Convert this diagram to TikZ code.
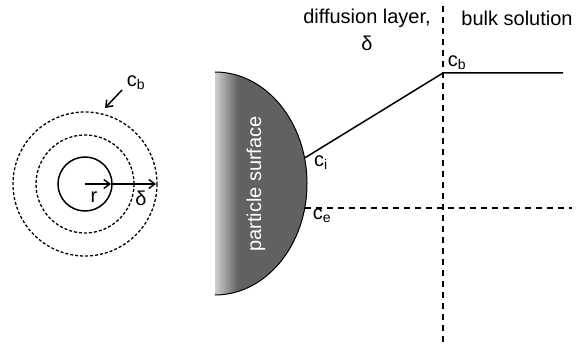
\documentclass[tikz,border=0pt]{standalone}
\usepackage{fontspec}
\setmainfont{Liberation Sans}
\usepackage{tikz}
\usetikzlibrary{arrows.meta}

\tikzset{
  lbl/.style={inner sep=1pt,font=\fontsize{20}{23}\selectfont},
  thinline/.style={line width=1.5pt},
  tip/.style={-{Straight Barb[length=6pt,width=9pt,line width=1.5pt]}},
  bigdash/.style={line width=1.9pt,dash pattern=on 6pt off 5pt},
  ringdash/.style={line width=1.3pt,dash pattern=on 3pt off 2pt},
}

\begin{document}
\begin{tikzpicture}[x=1pt,y=-1pt]
\useasboundingbox (0,0) rectangle (577,347);
% left: particle with rings
\coordinate (o) at (85,184);
\coordinate (r1) at (111,184);
\coordinate (r2) at (156,184);
\draw[thinline] (o) circle (27);
\draw[ringdash] (o) circle (49);
\draw[ringdash] (o) circle (72);
\draw[thinline,tip] (o) -- (r1);
\draw[thinline,tip] (r1) -- (r2);
\node[lbl] (rlab) at (94,197) {r};
\node[lbl] (dlab) at (141,198) {δ};
\node[lbl] (cbring) at (136,83) {c\textsubscript{b}};
\coordinate (cbtail) at (122,90);
\coordinate (cbtip) at (105,108);
\draw[thinline,tip] (cbtail) -- (cbtip);
% particle surface
\begin{scope}
\clip (215,72) arc[start angle=-90,end angle=90,x radius=92,y radius=111.5] -- cycle;
\fill[black!62] (200,60) rectangle (320,300);
\shade[left color=black!15,right color=black!62] (213,60) rectangle (238,300);
\end{scope}
\draw[line width=1pt] (215,72) arc[start angle=-90,end angle=90,x radius=92,y radius=111.5];
\node[lbl,white,rotate=90] (ps) at (256,184) {particle surface};
% concentration profile
\coordinate (ci) at (304.6,158);
\coordinate (ce) at (304.7,208);
\coordinate (cb) at (443,73);
\coordinate (bulk) at (563,73);
\coordinate (vtop) at (443,6);
\coordinate (vbot) at (443,342);
\coordinate (hend) at (572,208);
\draw[bigdash] (vtop) -- (vbot);
\draw[bigdash] (ce) -- (hend);
\draw[thinline] (ci) -- (cb) -- (bulk);
\node[lbl] (cilab) at (321,163) {c\textsubscript{i}};
\node[lbl] (celab) at (322,216) {c\textsubscript{e}};
\node[lbl] (cblab) at (457,63) {c\textsubscript{b}};
\node[lbl] (diff) at (367,18) {diffusion layer,};
\node[lbl] (delta) at (367,43) {δ};
\node[lbl] (bs) at (517,18) {bulk solution};
\end{tikzpicture}
\end{document}
